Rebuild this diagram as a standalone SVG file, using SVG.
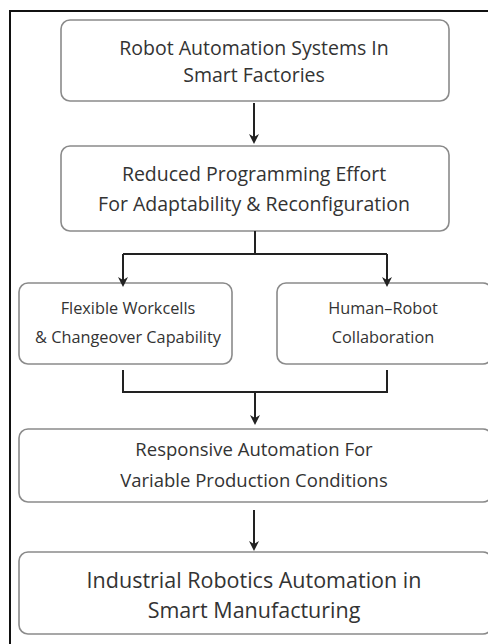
<svg xmlns="http://www.w3.org/2000/svg" width="488" height="644" viewBox="0 0 488 644">
<defs>
<style>
.box{fill:#fff;stroke:#8a8a8a;stroke-width:1.6}
.t{font-family:"Open Sans","Noto Sans",sans-serif;fill:#333;text-anchor:middle}
.ln{fill:none;stroke:#222;stroke-width:2}
</style>
<marker id="ah" markerWidth="10" markerHeight="10" refX="5" refY="5" orient="auto" markerUnits="userSpaceOnUse"><path d="M0,0 L10,5 L0,10 L3,5 Z" fill="#222"/></marker>
</defs>
<rect x="0" y="0" width="488" height="644" fill="#fff"/>
<path d="M10,644 L10,11 L488,11" fill="none" stroke="#111" stroke-width="2"/>
<g id="n1"><rect class="box" x="61" y="20" width="388" height="81" rx="9"/>
<text class="t" x="254" y="55" font-size="19.5">Robot Automation Systems In</text>
<text class="t" x="254" y="82" font-size="19.5">Smart Factories</text></g>
<g id="n2"><rect class="box" x="61" y="146" width="388" height="85" rx="9"/>
<text class="t" x="254" y="181" font-size="19.5">Reduced Programming Effort</text>
<text class="t" x="254" y="211" font-size="19.5">For Adaptability &amp; Reconfiguration</text></g>
<g id="n3"><rect class="box" x="19" y="283" width="213" height="81" rx="9"/>
<text class="t" x="128" y="314" font-size="16.3">Flexible Workcells</text>
<text class="t" x="128" y="343" font-size="16.3">&amp; Changeover Capability</text></g>
<g id="n4"><rect class="box" x="277" y="283" width="215" height="81" rx="9"/>
<text class="t" x="383" y="314" font-size="16.3">Human–Robot</text>
<text class="t" x="383" y="343" font-size="16.3">Collaboration</text></g>
<g id="n5"><rect class="box" x="19" y="429" width="473" height="73" rx="9"/>
<text class="t" x="254" y="456" font-size="18.5">Responsive Automation For</text>
<text class="t" x="254" y="487" font-size="18.5">Variable Production Conditions</text></g>
<g id="n6"><rect class="box" x="19" y="552" width="473" height="82" rx="9"/>
<text class="t" x="254" y="588" font-size="21.5">Industrial Robotics Automation in</text>
<text class="t" x="254" y="618" font-size="21.5">Smart Manufacturing</text></g>
<g id="connectors">
<path class="ln" d="M254,103 V139" marker-end="url(#ah)"/>
<path class="ln" d="M255,231 V254 M123,254 H387"/>
<path class="ln" d="M123,254 V282" marker-end="url(#ah)"/>
<path class="ln" d="M387,254 V282" marker-end="url(#ah)"/>
<path class="ln" d="M123,370 V392 H387 V370 M255,392 V420" marker-end="url(#ah)"/>
<path class="ln" d="M254,510 V546" marker-end="url(#ah)"/>
</g>
</svg>
